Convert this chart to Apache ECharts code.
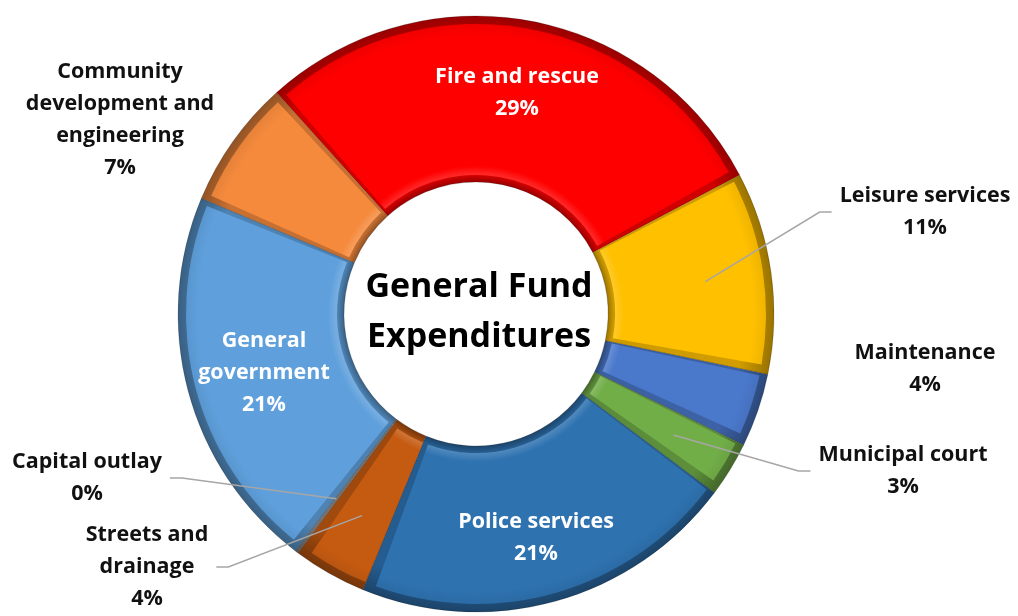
<!DOCTYPE html>
<html>
<head>
<meta charset="utf-8">
<script src="https://cdn.jsdelivr.net/npm/echarts@6/dist/echarts.min.js"></script>
<style>
html,body{margin:0;padding:0;background:#fff;}
#c{width:1018px;height:616px;}
</style>
</head>
<body>
<div id="c"></div>
<script>
// ---- data ----
const categories = ['Fire and rescue', 'Leisure services', 'Maintenance', 'Municipal court', 'Police services', 'Streets and drainage', 'Capital outlay', 'General government', 'Community development and engineering'];
const values = [29, 11, 4, 3, 21, 4, 0.2, 21, 7];
const labelTexts = ['Fire and rescue', 'Leisure services', 'Maintenance', 'Municipal court', 'Police services', 'Streets and\ndrainage', 'Capital outlay', 'General\ngovernment', 'Community\ndevelopment and\nengineering'];
const titleLines = ['General Fund', 'Expenditures'];

// ---- styles ----
const palette = ['#FF0000', '#FFC000', '#4A78CB', '#72AE48', '#2E72B0', '#C55A11', '#8C8C8C', '#5FA0DC', '#F58A3D'];
const insideIdx = [0, 4, 7];
const lineSide = {1: 1, 3: 1, 5: -1, 6: -1};
const labelPos = {0: [517, 93], 1: [925, 212], 2: [925, 369], 3: [903, 471], 4: [536, 538], 5: [147, 567], 6: [87, 478], 7: [264, 373], 8: [120, 120]};
const CX = 476, CY = 314, R0 = 132, R = 298;

function shade(hex, f) {
  const n = parseInt(hex.slice(1), 16);
  let r = (n >> 16) & 255, g = (n >> 8) & 255, b = n & 255;
  const t = f < 0 ? 0 : 255, p = Math.abs(f);
  r = Math.round(r + (t - r) * p); g = Math.round(g + (t - g) * p); b = Math.round(b + (t - b) * p);
  return 'rgb(' + r + ',' + g + ',' + b + ')';
}
function bevelGrad(c) {
  return new echarts.graphic.RadialGradient(CX, CY, R, [
    {offset: R0 / R, color: shade(c, -0.4)},
    {offset: R0 / R + 0.02, color: shade(c, -0.2)},
    {offset: 0.9, color: shade(c, -0.18)},
    {offset: 1, color: shade(c, -0.4)}
  ], true);
}
function faceGrad(c) {
  return new echarts.graphic.RadialGradient(CX, CY, R, [
    {offset: (R0 + 8) / R, color: shade(c, 0.15)},
    {offset: (R0 + 16) / R, color: c},
    {offset: 0.93, color: c},
    {offset: (R - 8) / R, color: shade(c, -0.06)}
  ], true);
}

const chart = echarts.init(document.getElementById('c'));
const font = '"Open Sans"';

const baseData = categories.map((n, i) => ({name: n, value: values[i], itemStyle: {color: bevelGrad(palette[i])}}));
const faceData = categories.map((n, i) => ({name: n, value: values[i], itemStyle: {color: faceGrad(palette[i])}}));
const labelData = categories.map((n, i) => {
  const inside = insideIdx.indexOf(i) >= 0;
  return {
    name: n, value: values[i],
    label: {
      position: inside ? 'inside' : 'outside',
      color: inside ? '#ffffff' : '#111111'
    },
    labelLine: {show: lineSide[i] !== undefined}
  };
});

chart.setOption({
  animation: false,
  graphic: [{
    type: 'text', x: 479, y: 312, silent: true,
    style: {text: titleLines.join('\n'), font: 'bold 34px ' + font, fill: '#000', textAlign: 'center', textVerticalAlign: 'middle', lineHeight: 50}
  }],
  series: [
    {
      type: 'pie', z: 1, silent: true, center: [CX, CY], radius: [R0, R], startAngle: 132, clockwise: true,
      label: {show: false}, labelLine: {show: false}, emphasis: {disabled: true},
      itemStyle: {borderColor: 'rgba(0,0,0,0.18)', borderWidth: 1},
      data: baseData
    },
    {
      type: 'pie', z: 2, silent: true, center: [CX, CY], radius: [R0 + 7, R - 8], startAngle: 132, clockwise: true,
      padAngle: 2.2,
      label: {show: false}, labelLine: {show: false}, emphasis: {disabled: true},
      data: faceData
    },
    {
      type: 'pie', z: 3, silent: true, center: [CX, CY], radius: [R0, R], startAngle: 132, clockwise: true,
      avoidLabelOverlap: false, percentPrecision: 0,
      itemStyle: {color: 'rgba(0,0,0,0)'},
      emphasis: {disabled: true},
      label: {
        show: true,
        formatter: p => labelTexts[p.dataIndex] + '\n' + Math.round(p.percent) + '%',
        fontFamily: font, fontWeight: 'bold', fontSize: 21.5, lineHeight: 32, align: 'center'
      },
      labelLine: {lineStyle: {color: '#A6A6A6', width: 1.5}},
      labelLayout: function (p) {
        const idx = p.dataIndex;
        const pos = labelPos[idx];
        const out = {x: pos[0], y: pos[1], align: 'center', verticalAlign: 'middle'};
        const side = lineSide[idx];
        if (side !== undefined) {
          const lay = chart.getModel().getSeriesByIndex(2).getData().getItemLayout(idx);
          const mid = (lay.startAngle + lay.endAngle) / 2;
          const rr = lay.r0 + 0.6 * (lay.r - lay.r0);
          const sx = lay.cx + rr * Math.cos(mid), sy = lay.cy + rr * Math.sin(mid);
          const w = p.labelRect.width;
          const ex = side > 0 ? pos[0] - w / 2 - 8 : pos[0] + w / 2 + 8;
          const bx = ex - side * 12;
          out.labelLinePoints = [[sx, sy], [bx, pos[1]], [ex, pos[1]]];
        }
        return out;
      },
      data: labelData
    }
  ]
});
</script>
</body>
</html>
